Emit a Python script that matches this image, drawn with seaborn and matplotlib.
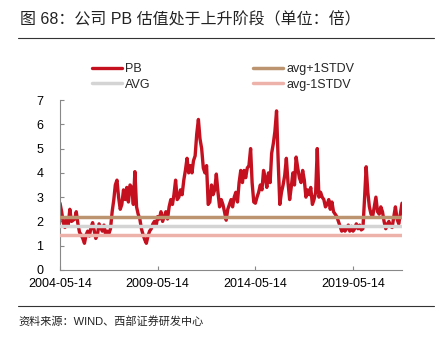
import numpy as np
import pandas as pd
import matplotlib
matplotlib.use("Agg")
import matplotlib.pyplot as plt
import matplotlib.dates as mdates
import seaborn as sns

# ---- data (monthly PB readings, May 2004 -> Nov 2021) ----
pb_2004 = [2.75, 2.4, 1.95, 1.75, 2.15, 1.85, 2.5, 2.0]
pb_2005 = [2.05, 2.1, 2.4, 1.9, 1.55, 1.45, 1.3, 1.1, 1.45, 1.6, 1.4, 1.75]
pb_2006 = [1.95, 1.6, 1.3, 1.45, 1.9, 1.75, 1.6, 1.85, 1.45, 1.6, 1.5, 1.7]
pb_2007 = [2.4, 2.9, 3.5, 3.7, 3.0, 2.5, 2.7, 3.3, 2.9, 3.4, 2.8, 3.5]
pb_2008 = [3.4, 2.7, 4.05, 2.6, 2.3, 2.1, 1.7, 1.45, 1.25, 1.1, 1.4, 1.6]
pb_2009 = [1.7, 1.9, 2.0, 1.8, 2.2, 2.1, 2.4, 2.0, 2.2, 2.4, 2.1, 2.6]
pb_2010 = [2.9, 2.7, 3.1, 3.7, 2.9, 3.0, 3.3, 3.1, 3.7, 4.1, 4.6, 4.0]
pb_2011 = [4.3, 4.0, 4.5, 4.7, 5.6, 6.2, 5.4, 5.0, 4.2, 4.0, 4.3, 2.7]
pb_2012 = [2.8, 3.5, 3.1, 3.3, 3.95, 3.2, 2.6, 2.9, 2.7, 2.4, 2.05, 2.5]
pb_2013 = [2.7, 2.9, 2.6, 3.0, 3.2, 2.8, 3.6, 4.1, 3.6, 4.1, 3.8, 4.2]
pb_2014 = [4.3, 5.0, 3.6, 2.8, 2.75, 3.0, 3.2, 3.5, 3.3, 4.1, 3.8, 3.4]
pb_2015 = [4.0, 3.6, 4.8, 5.2, 5.7, 6.55, 4.5, 2.7, 3.2, 3.5, 3.9, 4.6]
pb_2016 = [3.6, 2.9, 3.4, 4.0, 3.5, 4.65, 4.2, 3.8, 3.6, 4.1, 3.7, 3.0]
pb_2017 = [3.3, 3.1, 3.4, 2.7, 2.9, 3.2, 5.0, 3.0, 3.2, 3.0, 2.9, 2.6]
pb_2018 = [2.7, 2.9, 2.5, 2.8, 2.4, 2.3, 2.2, 2.0, 1.8, 1.6, 1.75, 1.6]
pb_2019 = [1.7, 1.85, 1.6, 1.8, 1.6, 1.7, 1.9, 1.7, 1.85, 1.65, 1.7, 2.9]
pb_2020 = [4.25, 3.2, 2.6, 2.3, 2.2, 2.6, 3.0, 2.4, 2.3, 2.6, 2.4, 2.0]
pb_2021 = [1.7, 1.9, 2.0, 1.8, 1.75, 2.2, 2.6, 2.1, 1.9, 2.3, 2.75]

avg_plus_1std = 2.2
avg_value = 1.8
avg_minus_1std = 1.45

start_date = "2004-05-14"
tick_labels = ["2004-05-14", "2009-05-14", "2014-05-14", "2019-05-14"]
y_ticks = [0, 1, 2, 3, 4, 5, 6, 7]

title_text = "图 68：公司 PB 估值处于上升阶段（单位：倍）"
source_text = "资料来源：WIND、西部证券研发中心"

# ---- build table ----
pb = (pb_2004 + pb_2005 + pb_2006 + pb_2007 + pb_2008 + pb_2009 + pb_2010 +
      pb_2011 + pb_2012 + pb_2013 + pb_2014 + pb_2015 + pb_2016 + pb_2017 +
      pb_2018 + pb_2019 + pb_2020 + pb_2021)
dates = [pd.Timestamp(start_date) + pd.DateOffset(months=i) for i in range(len(pb))]
df = pd.DataFrame({
    "date": dates,
    "PB": pb,
    "AVG": [avg_value] * len(pb),
    "avg+1STDV": [avg_plus_1std] * len(pb),
    "avg-1STDV": [avg_minus_1std] * len(pb),
})

sns.set_theme(style="white")
plt.rcParams["font.family"] = ["Liberation Sans", "Noto Sans CJK SC", "DejaVu Sans"]

fig = plt.figure(figsize=(4.42, 3.39), dpi=100)
ax = fig.add_axes([60 / 442, 1 - 270 / 339, 342 / 442, 170 / 339])

c_pb = "#C4101F"
c_plus = "#BC9570"
c_avg = "#D4D4D4"
c_minus = "#EDB3AA"

sns.lineplot(data=df, x="date", y="PB", ax=ax, color=c_pb, lw=2.4, label="PB", zorder=2)
sns.lineplot(data=df, x="date", y="AVG", ax=ax, color=c_avg, lw=2.5, label="AVG", zorder=3)
sns.lineplot(data=df, x="date", y="avg+1STDV", ax=ax, color=c_plus, lw=2.5, label="avg+1STDV", zorder=3)
sns.lineplot(data=df, x="date", y="avg-1STDV", ax=ax, color=c_minus, lw=2.5, label="avg-1STDV", zorder=3)

ax.set_xlim(pd.Timestamp(start_date), dates[-1])
ax.set_ylim(0, 7)
ax.set_yticks(y_ticks)
ax.set_xticks([pd.Timestamp(t) for t in tick_labels])
ax.xaxis.set_major_formatter(mdates.DateFormatter("%Y-%m-%d"))
ax.set_xlabel("")
ax.set_ylabel("")
for s in ["top", "right"]:
    ax.spines[s].set_visible(False)
for s in ["left", "bottom"]:
    ax.spines[s].set_color("#888888")
    ax.spines[s].set_linewidth(0.8)
ax.tick_params(axis="both", direction="in", length=3, width=0.8, color="#888888",
               labelsize=9, labelcolor="#000000", left=True, bottom=True)
ax.tick_params(axis="y", pad=12)
ax.tick_params(axis="x", pad=6)

handles, labels = ax.get_legend_handles_labels()
ax.get_legend().remove()
fig.legend(handles, labels, ncol=2, loc="upper left", bbox_to_anchor=(86.5 / 442, 1 - 58 / 339),
           frameon=False, fontsize=9, handlelength=2.4, handletextpad=0.3,
           columnspacing=8.15, labelspacing=0.3, borderaxespad=0)

fig.text(20 / 442, 1 - 20 / 339, title_text, fontsize=11.5, va="center", ha="left",
         color="#222222")
fig.add_artist(plt.Line2D([18 / 442, 434 / 442], [1 - 38 / 339, 1 - 38 / 339],
                          transform=fig.transFigure, color="#333333", lw=0.8))
fig.add_artist(plt.Line2D([18 / 442, 434 / 442], [1 - 305.5 / 339, 1 - 305.5 / 339],
                          transform=fig.transFigure, color="#333333", lw=0.8))
fig.text(18 / 442, 1 - 321 / 339, source_text, fontsize=8, va="center", ha="left",
         color="#222222")

fig.savefig("out.png", dpi=100)
